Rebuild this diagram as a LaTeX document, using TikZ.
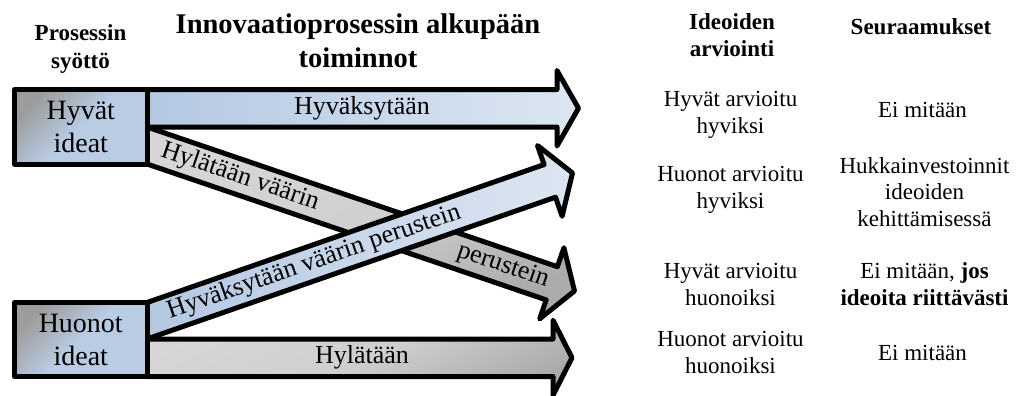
\documentclass[tikz,border=0pt]{standalone}
\usepackage{fontspec}
\setmainfont{Liberation Serif}
\definecolor{arrowblueL}{HTML}{B4C8E2}
\definecolor{arrowblueR}{HTML}{DCE6F2}
\definecolor{greyL}{HTML}{D6D6D6}
\definecolor{greyD}{HTML}{ABABAB}
\definecolor{boxgrey}{HTML}{9C9C9C}
\definecolor{boxblue}{HTML}{B9CCE4}
\begin{document}
\begin{tikzpicture}[x=1pt,y=-1pt,
  outline/.style={draw=black, line width=5pt, line join=round},
  bluearrow/.style={outline, left color=arrowblueL, right color=arrowblueR},
  greyarrow/.style={outline, top color=greyL, bottom color=greyD, middle color=greyL!85!greyD, shading angle=25},
  ideabox/.style={outline, rectangle, inner sep=0pt,
    top color=boxgrey, bottom color=boxblue, middle color=boxblue, shading angle=45,
    font=\fontsize{28}{33}\selectfont, align=center},
  arrowtext/.style={font=\fontsize{26}{31}\selectfont, inner sep=0pt},
  heading/.style={font=\bfseries\fontsize{23}{28}\selectfont, align=center, inner sep=0pt, anchor=base},
  bigheading/.style={font=\bfseries\fontsize{28.5}{34}\selectfont, align=center, inner sep=0pt, anchor=base},
  coltext/.style={font=\fontsize{23}{26.5}\selectfont, align=center, inner sep=0pt, anchor=base}]
\useasboundingbox (0,0) rectangle (1017,396);

% straight arrow: good ideas accepted
\path[bluearrow] (147,89.5) -- (557,89.5) -- (557,70.5) -- (578.5,108.25)
  -- (557,146) -- (557,127) -- (147,127) -- cycle;
% straight arrow: poor ideas rejected
\path[greyarrow] (147,339) -- (553,339) -- (553,320.25) -- (572,357.75)
  -- (553,395.25) -- (553,376.5) -- (147,376.5) -- cycle;
% diagonal arrow: good ideas rejected on wrong grounds
\path[greyarrow] (147,127) -- (557.4,266.7) -- (563.9,247.8) -- (574.5,291)
  -- (539.7,318.8) -- (546.2,299.9) -- (147,164) -- cycle;
\node[arrowtext, rotate=-18.8] (rejwrong1) at (240,177) {Hylätään väärin};
\node[arrowtext, rotate=-18.8] (rejwrong2) at (503,266) {perustein};
% diagonal arrow: poor ideas accepted on wrong grounds
\path[bluearrow] (147,302.5) -- (544.1,164.6) -- (537.5,145.5) -- (572.5,173)
  -- (562.1,216.3) -- (555.5,197.2) -- (147,339) -- cycle;
\node[arrowtext, rotate=19.1] (accwrong) at (314,262.5) {Hyväksytään väärin perustein};

\node[arrowtext] (acc) at (362,108.25) {Hyväksytään};
\node[arrowtext] (rej) at (362,357.75) {Hylätään};

% input boxes
\node[ideabox, minimum width=132.5pt, minimum height=74.5pt] (good) at (80.75,126.75) {Hyvät\\ideat};
\node[ideabox, minimum width=132.5pt, minimum height=74pt] (poor) at (80.75,339.5) {Huonot\\ideat};

% column headings (node base = baseline of the last line)
\node[heading] (input) at (80.5,68) {Prosessin\\syöttö};
\node[bigheading] (front) at (358,67) {Innovaatioprosessin alkupään\\toiminnot};
\node[heading] (eval) at (732,57) {Ideoiden\\arviointi};
\node[heading] (cons) at (921,35) {Seuraamukset};

% evaluation outcomes
\node[coltext] (e1) at (730.5,133) {Hyvät arvioitu\\hyviksi};
\node[coltext] (e2) at (730.5,208) {Huonot arvioitu\\hyviksi};
\node[coltext] (e3) at (730.5,305) {Hyvät arvioitu\\huonoiksi};
\node[coltext] (e4) at (730.5,373) {Huonot arvioitu\\huonoiksi};

% consequences
\node[coltext] (c1) at (922.5,117) {Ei mitään};
\node[coltext] (c2) at (924.5,226) {Hukkainvestoinnit\\ideoiden\\kehittämisessä};
\node[coltext] (c3) at (924.5,305) {Ei mitään, \textbf{jos}\\\textbf{ideoita riittävästi}};
\node[coltext] (c4) at (922.5,360) {Ei mitään};
\end{tikzpicture}
\end{document}
